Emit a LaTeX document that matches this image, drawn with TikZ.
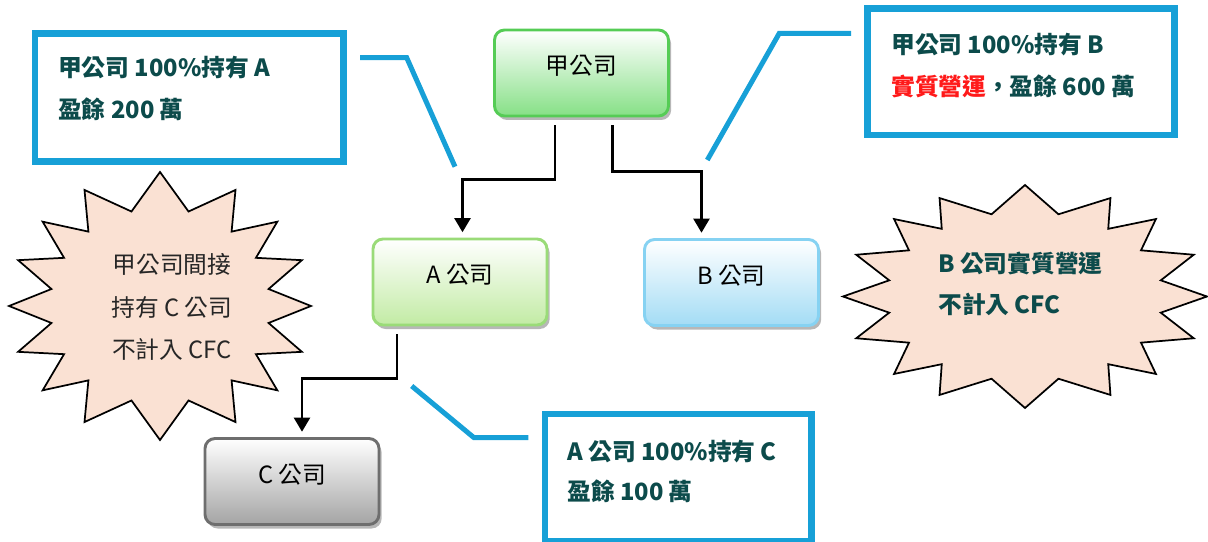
\documentclass[tikz,border=0pt]{standalone}
\usepackage{fontspec}
\setmainfont{Noto Sans CJK TC}
\usetikzlibrary{arrows.meta,calc,shadows}
\definecolor{cyanb}{HTML}{17A0D7}
\definecolor{txtteal}{HTML}{0C4B4B}
\definecolor{peach}{HTML}{FAE1D3}
\definecolor{gborder}{HTML}{55CC55}
\definecolor{gfill}{HTML}{86E086}
\definecolor{lgborder}{HTML}{9ADB78}
\definecolor{lgfill}{HTML}{C2EBA4}
\definecolor{bborder}{HTML}{86D2F2}
\definecolor{bfill}{HTML}{A3DCF5}
\definecolor{cborder}{HTML}{6E6E6E}
\definecolor{cfill}{HTML}{A4A4A4}
\definecolor{redtxt}{HTML}{FF1A1A}
\begin{document}
\begin{tikzpicture}[x=0.75pt,y=-0.75pt,
  company/.style 2 args={draw=#1, top color=white, bottom color=#2, rounded corners=7.5pt,
    line width=2.2pt, minimum width=130.5pt, minimum height=64.5pt, inner sep=0pt,
    font=\fontsize{17.8}{20}\selectfont,
    drop shadow={shadow xshift=2pt, shadow yshift=-3pt, fill=black!70, opacity=0.4}},
  callout/.style={draw=cyanb, line width=5pt, fill=white, inner sep=0pt},
  calltext/.style={anchor=west, align=left, text=txtteal, inner sep=0pt},
  leader/.style={draw=cyanb, line width=3.75pt},
  conn/.style={draw=black, line width=1.6pt, -{Triangle[length=10.5pt,width=12pt]},
    shorten <=6pt, shorten >=4pt},
  burst/.style={draw=black, line width=1.3pt, fill=peach, line join=miter},
]
\useasboundingbox (0,0) rectangle (1208,542);

% starbursts
\draw[burst] (160,172) \foreach \b/\a in {75/60, 49.5/39, 29.5/20, 10/0, -10/-20, -29.5/-39, -49.5/-60, -75/-90, -105/-120, -130.5/-141, -150.5/-160, -170/-180, -190/-200, -209.5/-219, -229.5/-240, -255/-270}
  { -- ({160+0.73*151*cos(\b)},{306-0.73*134*sin(\b)}) -- ({160+151*cos(\a)},{306-134*sin(\a)}) } -- cycle;
\draw[burst] (1025,185) \foreach \b/\a in {76/62, 53/44, 33/22, 11/0, -11/-22, -33/-44, -53/-62, -76/-90, -104/-118, -127/-136, -147/-158, -169/-180, -191/-202, -213/-224, -233/-242, -256/-270}
  { -- ({1025+0.76*182*cos(\b)},{296.5-0.76*111.5*sin(\b)}) -- ({1025+182*cos(\a)},{296.5-111.5*sin(\a)}) } -- cycle;

\node[align=center, inner sep=0pt, text=black!85, font=\fontsize{17.8}{31.9}\selectfont] (lt) at (172,307)
  {甲公司間接\\持有 C 公司\\不計入 CFC};
\node[calltext, font=\fontsize{17.8}{30.75}\bfseries\selectfont] (rt) at (938,284)
  {B 公司實質營運\\不計入 CFC};

% callout boxes
\node[callout, minimum width=231.2pt, minimum height=96.3pt] (box1) at (189.2,97.5) {};
\node[callout, minimum width=230.25pt, minimum height=94.9pt] (box2) at (1021,71.75) {};
\node[callout, minimum width=200pt, minimum height=95.6pt] (box3) at (678.4,477.75) {};

\node[calltext, font=\fontsize{17.8}{31.5}\bfseries\selectfont] (t1) at (58,88)
  {甲公司 100\%持有 A\\盈餘 200 萬};
\node[calltext, font=\fontsize{17.8}{31}\bfseries\selectfont] (t2) at (891,65.5)
  {甲公司 100\%持有 B\\\textcolor{redtxt}{實質營運}，盈餘 600 萬};
\node[calltext, font=\fontsize{17.8}{30}\bfseries\selectfont] (t3) at (567,471)
  {A 公司 100\%持有 C\\盈餘 100 萬};

% leader lines
\coordinate (l1a) at (360,57.7); \coordinate (l1b) at (406.7,57.7); \coordinate (l1c) at (455,166.7);
\coordinate (l2a) at (851,33.3); \coordinate (l2b) at (779.3,33.3); \coordinate (l2c) at (707.3,160);
\coordinate (l3a) at (411.7,386); \coordinate (l3b) at (474,437.7); \coordinate (l3c) at (528.3,437.7);
\draw[leader] (l1a) -- (l1b) -- (l1c);
\draw[leader] (l2a) -- (l2b) -- (l2c);
\draw[leader] (l3a) -- (l3b) -- (l3c);

% company boxes
\node[company={gborder}{gfill}] (jia) at (581.5,73) {\raisebox{12pt}{甲公司}};
\node[company={lgborder}{lgfill}] (A) at (460,282) {\raisebox{12pt}{A 公司}};
\node[company={bborder}{bfill}] (B) at (731.5,282.5) {\raisebox{12pt}{B 公司}};
\node[company={cborder}{cfill}] (C) at (292,481.5) {\raisebox{12pt}{C 公司}};

% connectors
\draw[conn] ($(jia.south)+(-26.5,0)$) -- ++(0,62) -| ($(A.north)+(2.5,0)$);
\draw[conn] ($(jia.south)+(31,0)$) -- ++(0,54) -| ($(B.north)+(-30,0)$);
\draw[conn] ($(A.south)+(-63,0)$) -- ++(0,52) -| ($(C.north)+(10,0)$);
\end{tikzpicture}
\end{document}
